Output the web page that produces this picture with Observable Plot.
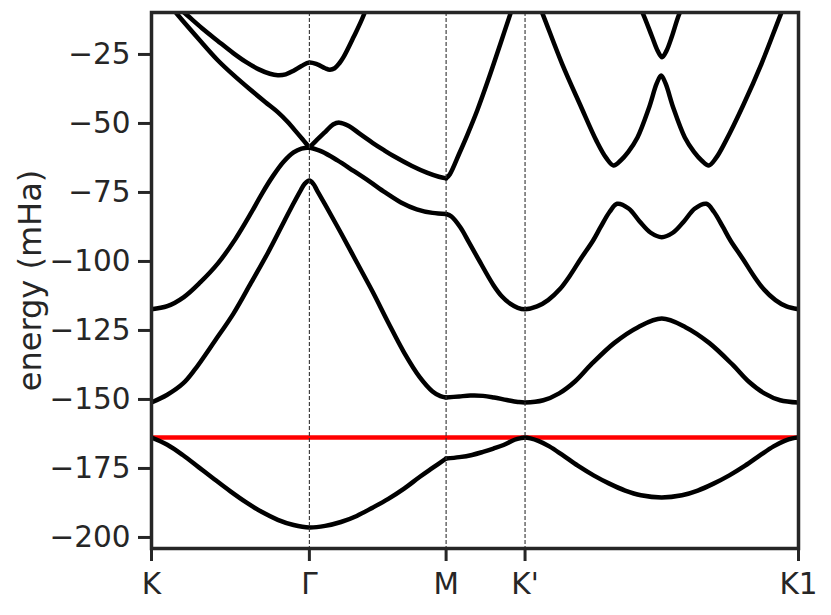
<!DOCTYPE html>
<html>
<head>
<meta charset="utf-8">
<script src="https://cdn.jsdelivr.net/npm/d3@7"></script>
<script src="https://cdn.jsdelivr.net/npm/@observablehq/plot@0.6"></script>
<style>
  html, body { margin: 0; padding: 0; background: white; }
  #chart svg { display: block; }
</style>
</head>
<body>
<div id="chart"></div>
<script>
// High-symmetry path: positions (path length units) and labels
const kTicks = [0, 1, 1.866, 2.366, 4.098];
const kLabels = ["K", "Γ", "M", "K'", "K1"];
const yTicks = [-25, -50, -75, -100, -125, -150, -175, -200];
const fermiLevel = -163.8;

// Bands: [k, energy (mHa)]
const band1 = [[0,-163.8],[0.1,-166.4],[0.2,-170.2],[0.3,-174.6],[0.4,-179.0],[0.5,-183.3],[0.6,-187.3],[0.7,-190.8],[0.8,-193.6],[0.9,-195.5],[1.0,-196.4],
  [1.1,-195.8],[1.2,-194.4],[1.3,-192.2],[1.4,-189.2],[1.5,-186.0],[1.6,-182.3],[1.7,-178.0],[1.78,-174.8],[1.866,-171.4],
  [1.95,-170.9],[2.03,-170.1],[2.1,-169.0],[2.166,-167.8],[2.23,-166.5],[2.3,-164.6],[2.34,-164.0],[2.366,-163.8],
  [2.4,-164.1],[2.45,-165.0],[2.52,-167.0],[2.6,-170.0],[2.7,-174.0],[2.8,-177.5],[2.9,-180.5],[3.0,-183.0],[3.1,-184.7],[3.232,-185.5],
  [3.36,-184.7],[3.46,-183.0],[3.56,-180.5],[3.66,-177.5],[3.76,-174.0],[3.86,-170.0],[3.94,-167.0],[4.01,-165.0],[4.06,-164.1],[4.098,-163.8]];
const band2 = [[0,-151.1],[0.1,-148.3],[0.2,-144.2],[0.27,-139.5],[0.4,-128.9],[0.52,-118.8],[0.63,-107.8],[0.735,-97.1],[0.84,-85.5],[0.9,-78.9],[0.944,-74.3],[0.97,-71.9],[1.0,-70.7],
  [1.025,-71.9],[1.049,-74.3],[1.1,-79.4],[1.2,-89.7],[1.3,-100.3],[1.4,-110.9],[1.5,-122.2],[1.6,-133.0],[1.7,-142.0],[1.78,-147.1],[1.83,-148.8],[1.866,-149.3],
  [1.95,-148.9],[2.02,-148.6],[2.1,-148.7],[2.17,-149.3],[2.25,-150.2],[2.32,-150.9],[2.366,-151.1],
  [2.482,-150.3],[2.582,-147.8],[2.682,-143.5],[2.782,-137.5],[2.932,-129.5],[3.082,-123.8],[3.232,-120.7],[3.382,-123.8],[3.532,-129.5],[3.682,-137.5],[3.782,-143.5],[3.882,-147.8],[3.982,-150.3],[4.098,-151.1]];
const band3 = [[0,-117.3],[0.1,-116.2],[0.205,-112.9],[0.31,-107.5],[0.422,-100.6],[0.53,-92.0],[0.627,-82.8],[0.70,-75.4],[0.77,-69.0],[0.838,-63.8],[0.9,-60.5],[0.95,-59.1],[1.0,-58.7],
  [1.08,-60.2],[1.178,-63.4],[1.28,-67.2],[1.38,-71.0],[1.48,-75.0],[1.58,-78.6],[1.68,-81.1],[1.78,-82.4],[1.866,-82.8],
  [1.9,-83.7],[1.957,-87.7],[2.01,-93.0],[2.065,-98.6],[2.166,-108.6],[2.22,-112.7],[2.274,-115.4],[2.32,-116.8],[2.366,-117.3],
  [2.442,-116.3],[2.512,-114.0],[2.587,-110.0],[2.652,-105.0],[2.717,-99.2],[2.797,-92.4],[2.844,-87.6],[2.902,-82.0],[2.949,-79.1],[3.022,-80.8],[3.092,-85.5],[3.162,-89.6],[3.232,-91.2],
  [3.302,-89.6],[3.372,-85.5],[3.442,-80.8],[3.515,-79.1],[3.562,-82.0],[3.62,-87.6],[3.667,-92.4],[3.747,-99.2],[3.812,-105.0],[3.877,-110.0],[3.952,-114.0],[4.022,-116.3],[4.098,-117.3]];
const band4 = [[0,0],[0.1,-6],[0.171,-11],[0.3,-19.5],[0.418,-27.0],[0.52,-32.5],[0.627,-37.8],[0.72,-42.2],[0.798,-45.8],[0.86,-49.3],[0.925,-53.6],[0.965,-56.3],[1.0,-58.7],
  [1.04,-56.4],[1.1,-53.1],[1.15,-50.4],[1.19,-49.7],[1.25,-50.9],[1.32,-53.8],[1.4,-57.0],[1.47,-59.6],[1.533,-61.8],[1.65,-65.4],[1.748,-67.9],[1.82,-69.3],[1.866,-69.9],
  [1.89,-68.4],[1.95,-60.8],[2.0,-54.2],[2.063,-45.3],[2.14,-33.0],[2.21,-21.1],[2.273,-10.3],[2.366,5.5]];
const band5 = [[0,1],[0.12,-5.5],[0.228,-10.9],[0.32,-15.5],[0.418,-20.0],[0.52,-24.6],[0.6,-27.8],[0.68,-30.4],[0.75,-32.0],[0.8,-32.5],[0.85,-32.2],[0.9,-30.9],[0.95,-29.2],[1.0,-27.9],
  [1.05,-28.6],[1.1,-30.0],[1.13,-30.5],[1.16,-30.0],[1.19,-28.2],[1.216,-26.0],[1.28,-18.7],[1.343,-10.9],[1.42,2]];
const band6 = [[2.366,5.5],[2.476,-10.1],[2.6,-28.3],[2.717,-43.5],[2.82,-56.5],[2.88,-62.5],[2.926,-65.2],[2.97,-63.5],[3.02,-60.3],[3.078,-55.1],[3.15,-44.5],[3.2,-35.5],[3.228,-32.6],
  [3.256,-35.5],[3.306,-44.5],[3.378,-55.1],[3.436,-60.3],[3.486,-63.5],[3.53,-65.2],[3.576,-62.5],[3.636,-56.5],[3.747,-43.5],[3.864,-28.3],[3.988,-10.1],[4.098,5.5]];
const band7 = [[3.0,4],[3.06,-3.5],[3.118,-10.9],[3.17,-18.5],[3.207,-23.8],[3.234,-26.0],[3.261,-23.8],[3.296,-18.5],[3.339,-10.9],[3.395,-3.5],[3.455,4]];

const bands = [band1, band2, band3, band4, band5, band6, band7];
// k-points at which a band has a kink (the curve is split there)
const bandBreaks = [[1.866], [1.866], [1, 1.866], [1, 1.866], [], [], []];

const rows = [];
bands.forEach((pts, b) => {
  const cuts = [-Infinity, ...bandBreaks[b], Infinity];
  for (let s = 0; s < cuts.length - 1; s++) {
    pts.filter(([k]) => k >= cuts[s] - 1e-9 && k <= cuts[s + 1] + 1e-9)
       .forEach(([k, e]) => rows.push({k, e, series: `${b}-${s}`}));
  }
});

const ink = "#262626";
const chart = Plot.plot({
  width: 831,
  height: 615,
  marginLeft: 151,
  marginRight: 33,
  marginTop: 12,
  marginBottom: 67,
  style: {fontFamily: "DejaVu Sans", fontSize: "29px", background: "white", color: ink},
  x: {domain: [kTicks[0], kTicks[kTicks.length - 1]]},
  y: {domain: [-204, -9.8]},
  marks: [
    Plot.ruleY([fermiLevel], {stroke: "red", strokeWidth: 4.5}),
    Plot.line(rows, {x: "k", y: "e", z: "series", stroke: "black", strokeWidth: 4.5, curve: "catmull-rom", clip: true}),
    Plot.ruleX(kTicks.slice(1, -1), {stroke: "#333", strokeWidth: 1.1, strokeDasharray: "4,2"}),
    Plot.frame({stroke: ink, strokeWidth: 3.5}),
    Plot.axisY({ticks: yTicks, tickSize: 13, tickPadding: 8, fontSize: 29.5, color: ink, strokeWidth: 3, label: null}),
    Plot.axisX({ticks: kTicks, tickFormat: d => kLabels[kTicks.indexOf(d)], tickSize: 13, tickPadding: 12, fontSize: 29.5, color: ink, strokeWidth: 3, label: null}),
    Plot.text(["energy (mHa)"], {frameAnchor: "left", textAnchor: "middle", dx: -121, rotate: -90, fontSize: 32, fill: ink})
  ]
});
document.getElementById("chart").appendChild(chart);
</script>
</body>
</html>
